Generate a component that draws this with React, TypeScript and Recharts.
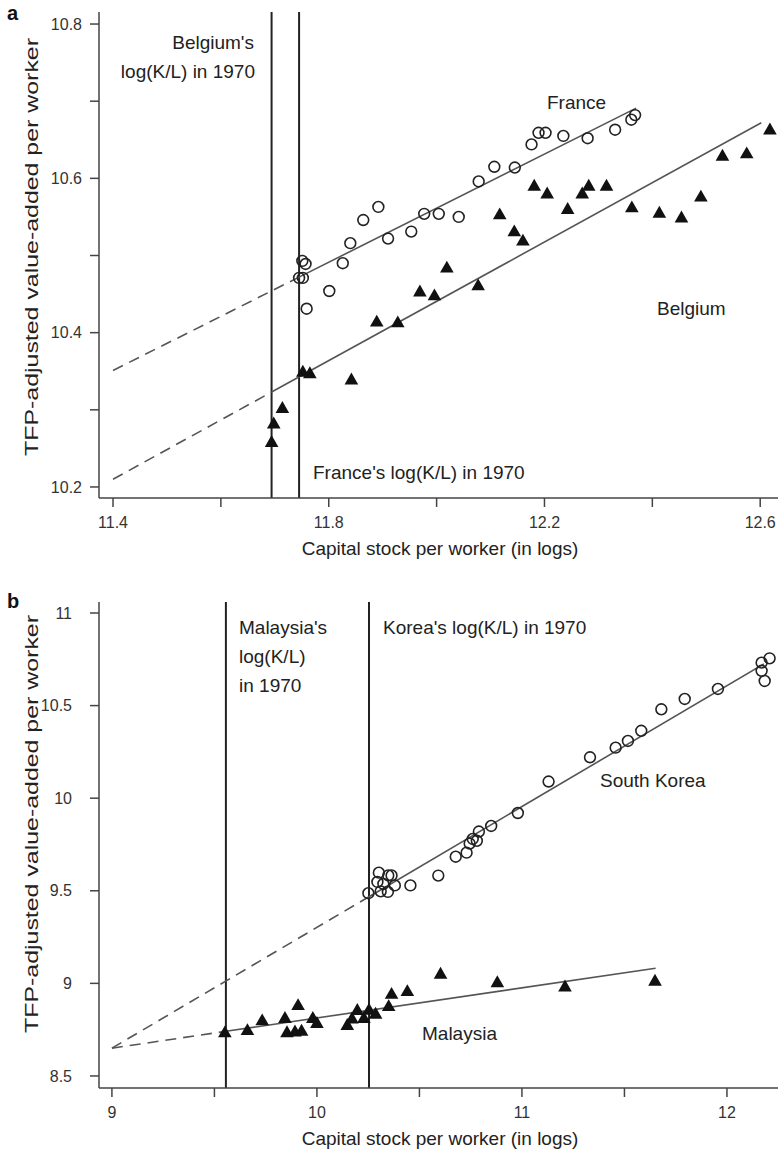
import { ComposedChart, Scatter, XAxis, YAxis, ReferenceLine } from "recharts"

const FONT = '"Liberation Sans", Arial, Helvetica, sans-serif'
const AXIS = "#444"
const FIT = "#555"
const VLINE = "#222"

// panel a: France (circles) and Belgium (triangles), log K/L vs TFP-adjusted VA
const franceK = [11.745, 11.752, 11.751, 11.757, 11.759, 11.801, 11.826, 11.84, 11.864, 11.892, 11.91, 11.953, 11.977, 12.004, 12.041, 12.078, 12.107, 12.145, 12.176, 12.189, 12.202, 12.235, 12.28, 12.331, 12.361, 12.368]
const franceY = [10.471, 10.471, 10.493, 10.489, 10.431, 10.454, 10.49, 10.516, 10.546, 10.563, 10.522, 10.531, 10.554, 10.554, 10.55, 10.596, 10.615, 10.614, 10.644, 10.659, 10.659, 10.655, 10.652, 10.663, 10.676, 10.682]
const belgiumK = [11.694, 11.698, 11.714, 11.752, 11.765, 11.842, 11.889, 11.928, 11.969, 11.996, 12.019, 12.077, 12.117, 12.144, 12.16, 12.181, 12.205, 12.243, 12.27, 12.282, 12.315, 12.362, 12.413, 12.454, 12.49, 12.53, 12.575, 12.618]
const belgiumY = [10.258, 10.282, 10.302, 10.349, 10.347, 10.339, 10.414, 10.413, 10.453, 10.448, 10.484, 10.461, 10.553, 10.531, 10.519, 10.59, 10.58, 10.56, 10.58, 10.59, 10.59, 10.562, 10.555, 10.549, 10.576, 10.629, 10.632, 10.663]

// fitted lines: [start of dashed part, 1970 level, end of solid part]
const franceFitK = [11.4, 11.745, 12.37]
const franceFitY = [10.351, 10.472, 10.691]
const belgiumFitK = [11.4, 11.694, 12.602]
const belgiumFitY = [10.21, 10.323, 10.672]
const kl1970a = { belgium: 11.694, france: 11.745 }

const aXTicks = [11.4, 11.6, 11.8, 12.0, 12.2, 12.4, 12.6]
const aXLabels = [11.4, 11.8, 12.2, 12.6]
const aYTicks = [10.2, 10.3, 10.4, 10.5, 10.6, 10.7, 10.8]
const aYLabels = [10.2, 10.4, 10.6, 10.8]

// panel b: South Korea (circles) and Malaysia (triangles)
const koreaK = [10.251, 10.295, 10.302, 10.311, 10.324, 10.346, 10.348, 10.364, 10.38, 10.456, 10.592, 10.677, 10.73, 10.745, 10.76, 10.78, 10.79, 10.85, 10.98, 11.13, 11.332, 11.457, 11.517, 11.582, 11.68, 11.794, 11.956, 12.169, 12.208, 12.169, 12.184]
const koreaY = [9.487, 9.548, 9.598, 9.497, 9.537, 9.494, 9.583, 9.583, 9.529, 9.529, 9.582, 9.684, 9.706, 9.755, 9.78, 9.77, 9.82, 9.85, 9.92, 10.09, 10.221, 10.273, 10.309, 10.364, 10.48, 10.536, 10.59, 10.732, 10.755, 10.688, 10.633]
const malaysiaK = [9.551, 9.661, 9.733, 9.844, 9.908, 9.854, 9.893, 9.925, 9.98, 10.0, 10.148, 10.171, 10.197, 10.229, 10.254, 10.286, 10.35, 10.364, 10.441, 10.603, 10.88, 11.21, 11.649]
const malaysiaY = [8.734, 8.746, 8.799, 8.812, 8.881, 8.735, 8.739, 8.743, 8.812, 8.785, 8.774, 8.809, 8.855, 8.812, 8.856, 8.835, 8.876, 8.942, 8.957, 9.051, 9.005, 8.982, 9.013]

const koreaFitK = [9.0, 10.254, 12.18]
const koreaFitY = [8.65, 9.468, 10.725]
const malaysiaFitK = [9.0, 9.556, 11.652]
const malaysiaFitY = [8.65, 8.741, 9.082]
const kl1970b = { malaysia: 9.556, korea: 10.254 }

const bXTicks = [9, 9.5, 10, 10.5, 11, 11.5, 12]
const bXLabels = [9, 10, 11, 12]
const bYTicks = [8.5, 9, 9.5, 10, 10.5, 11]

const pts = (xs: number[], ys: number[]) => xs.map((x, i) => ({ x, y: ys[i] }))

function OpenCircle(props: any) {
  const { cx, cy } = props
  if (cx == null || cy == null) return <g />
  return <circle cx={cx} cy={cy} r={5.4} fill="none" stroke="#222" strokeWidth={1.6} />
}

function FilledTriangle(props: any) {
  const { cx, cy } = props
  if (cx == null || cy == null) return <g />
  return <polygon points={`${cx},${cy - 7.2} ${cx + 6.8},${cy + 4.7} ${cx - 6.8},${cy + 4.7}`} fill="#111" />
}

const tickStyle = { fontSize: 16, fill: "#333", fontFamily: FONT }

function Panel(props: {
  width: number
  height: number
  top: number
  xDomain: [number, number]
  yDomain: [number, number]
  xTicks: number[]
  xLabels: number[]
  yTicks: number[]
  yLabels: number[]
  yTickMargin: number
  xAxisHeight: number
  vlines: number[]
  fits: { k: number[]; y: number[] }[]
  circles: { x: number; y: number }[]
  triangles: { x: number; y: number }[]
  fmt: (v: number) => string
}) {
  const p = props
  return (
    <ComposedChart width={p.width} height={p.height} margin={{ top: p.top, right: 0, bottom: 0, left: 0 }}>
      <XAxis
        type="number"
        dataKey="x"
        domain={p.xDomain}
        allowDataOverflow
        ticks={p.xTicks}
        interval={0}
        height={p.xAxisHeight}
        tickSize={9}
        tickMargin={10}
        tickFormatter={(v: number) => (p.xLabels.includes(v) ? p.fmt(v) : "")}
        tick={tickStyle}
        stroke={AXIS}
        strokeWidth={1.5}
      />
      <YAxis
        type="number"
        dataKey="y"
        domain={p.yDomain}
        allowDataOverflow
        ticks={p.yTicks}
        interval={0}
        width={99}
        tickSize={9}
        tickMargin={p.yTickMargin}
        tickFormatter={(v: number) => (p.yLabels.includes(v) ? p.fmt(v) : "")}
        tick={tickStyle}
        stroke={AXIS}
        strokeWidth={1.5}
      />
      {p.vlines.map((v) => (
        <ReferenceLine key={v} x={v} stroke={VLINE} strokeWidth={2} />
      ))}
      {p.fits.map((f, i) => (
        <ReferenceLine
          key={"d" + i}
          segment={[{ x: f.k[0], y: f.y[0] }, { x: f.k[1], y: f.y[1] }]}
          stroke={FIT}
          strokeWidth={1.6}
          strokeDasharray="11 7"
        />
      ))}
      {p.fits.map((f, i) => (
        <ReferenceLine
          key={"s" + i}
          segment={[{ x: f.k[1], y: f.y[1] }, { x: f.k[2], y: f.y[2] }]}
          stroke={FIT}
          strokeWidth={1.6}
        />
      ))}
      <Scatter data={p.circles} shape={<OpenCircle />} isAnimationActive={false} />
      <Scatter data={p.triangles} shape={<FilledTriangle />} isAnimationActive={false} />
    </ComposedChart>
  )
}

export default function App() {
  const t = { fontFamily: FONT, fontSize: 19, fill: "#222" }
  const yTitle = "TFP-adjusted value-added per worker"
  const xTitle = "Capital stock per worker (in logs)"
  return (
    <div style={{ position: "absolute", left: 0, top: 0, width: 778, height: 1155, background: "#fff", overflow: "hidden" }}>
      <div style={{ position: "absolute", left: 0, top: 0 }}>
        <Panel
          width={778}
          height={560}
          top={12}
          xDomain={[11.374, 12.633]}
          yDomain={[10.1857, 10.8156]}
          xTicks={aXTicks}
          xLabels={aXLabels}
          yTicks={aYTicks}
          yLabels={aYLabels}
          yTickMargin={8}
          xAxisHeight={62}
          vlines={[kl1970a.belgium, kl1970a.france]}
          fits={[
            { k: franceFitK, y: franceFitY },
            { k: belgiumFitK, y: belgiumFitY },
          ]}
          circles={pts(franceK, franceY)}
          triangles={pts(belgiumK, belgiumY)}
          fmt={(v) => v.toFixed(1)}
        />
      </div>
      <div style={{ position: "absolute", left: 0, top: 560 }}>
        <Panel
          width={778}
          height={595}
          top={42}
          xDomain={[8.937, 12.249]}
          yDomain={[8.435, 11.0594]}
          xTicks={bXTicks}
          xLabels={bXLabels}
          yTicks={bYTicks}
          yLabels={bYTicks}
          yTickMargin={18}
          xAxisHeight={67}
          vlines={[kl1970b.malaysia, kl1970b.korea]}
          fits={[
            { k: koreaFitK, y: koreaFitY },
            { k: malaysiaFitK, y: malaysiaFitY },
          ]}
          circles={pts(koreaK, koreaY)}
          triangles={pts(malaysiaK, malaysiaY)}
          fmt={(v) => String(v)}
        />
      </div>
      <svg width={778} height={1155} style={{ position: "absolute", left: 0, top: 0, pointerEvents: "none" }}>
        <text x={7} y={20} fontFamily={FONT} fontSize={20} fontWeight="bold" fill="#111">a</text>
        <text x={7} y={608} fontFamily={FONT} fontSize={20} fontWeight="bold" fill="#111">b</text>

        <text transform="translate(38,247) rotate(-90)" textAnchor="middle" fontFamily={FONT} fontSize={18} fill="#222" textLength={418} lengthAdjust="spacingAndGlyphs">{yTitle}</text>
        <text transform="translate(38,824) rotate(-90)" textAnchor="middle" fontFamily={FONT} fontSize={18} fill="#222" textLength={418} lengthAdjust="spacingAndGlyphs">{yTitle}</text>
        <text x={440} y={555} textAnchor="middle" {...t}>{xTitle}</text>
        <text x={440} y={1145} textAnchor="middle" {...t}>{xTitle}</text>

        <text x={254} y={49} textAnchor="end" {...t}>Belgium's</text>
        <text x={255} y={78} textAnchor="end" {...t}>log(K/L) in 1970</text>
        <text x={547} y={109} {...t}>France</text>
        <text x={657} y={315} {...t}>Belgium</text>
        <text x={313} y={479} {...t}>France's log(K/L) in 1970</text>

        <text x={239} y={634} {...t}>Malaysia's</text>
        <text x={239} y={663} {...t}>log(K/L)</text>
        <text x={239} y={692} {...t}>in 1970</text>
        <text x={383} y={634} {...t}>Korea's log(K/L) in 1970</text>
        <text x={600} y={787} {...t}>South Korea</text>
        <text x={422} y={1040} {...t}>Malaysia</text>
      </svg>
    </div>
  )
}
